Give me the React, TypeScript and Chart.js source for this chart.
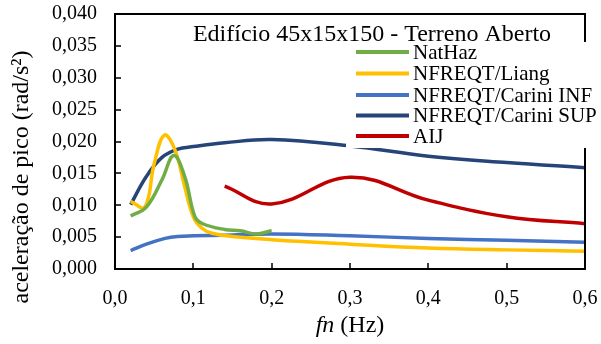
import React, { useEffect, useRef } from "react";
import { Chart, registerables } from "chart.js";

Chart.register(...registerables);

const chartTitle = "Edifício 45x15x150 - Terreno Aberto";
const yAxisTitle = "aceleração de pico (rad/s²)";
const xAxisTitleItalic = "fn";
const xAxisTitleRest = " (Hz)";

const natHazX = [0.02, 0.04, 0.06, 0.075, 0.089, 0.102, 0.112, 0.14, 0.16, 0.18, 0.2];
const natHazY = [0.0083, 0.0097, 0.014, 0.0178, 0.0145, 0.0082, 0.0071, 0.0062, 0.006, 0.0055, 0.006];

const liangX = [0.02, 0.038, 0.05, 0.063, 0.0765, 0.089, 0.1, 0.111, 0.124, 0.15, 0.2, 0.3, 0.4, 0.5, 0.6];
const liangY = [0.0106, 0.0097, 0.0165, 0.021, 0.0187, 0.0129, 0.0082, 0.0064, 0.0056, 0.0051, 0.0046, 0.0039, 0.0033, 0.003, 0.0028];

const cariniInfX = [0.02, 0.04, 0.064, 0.08, 0.1, 0.14, 0.2, 0.3, 0.4, 0.5, 0.6];
const cariniInfY = [0.0029, 0.0039, 0.0048, 0.0051, 0.0052, 0.0053, 0.0055, 0.0052, 0.0048, 0.0045, 0.0042];

const cariniSupX = [0.02, 0.04, 0.06, 0.08, 0.1, 0.14, 0.2, 0.3, 0.4, 0.5, 0.6];
const cariniSupY = [0.0101, 0.0145, 0.0175, 0.0188, 0.0192, 0.0198, 0.0203, 0.0193, 0.0177, 0.0167, 0.0159];

const aijX = [0.14, 0.2, 0.3, 0.4, 0.5, 0.6];
const aijY = [0.013, 0.0102, 0.0144, 0.0108, 0.0082, 0.0071];

const seriesLabels = ["NatHaz", "NFREQT/Liang", "NFREQT/Carini INF", "NFREQT/Carini SUP", "AIJ"];
const seriesColors = ["#70AD47", "#FFC000", "#4472C4", "#264478", "#C00000"];

const xTicks = [0, 0.1, 0.2, 0.3, 0.4, 0.5, 0.6];
const yTicks = [0, 0.005, 0.01, 0.015, 0.02, 0.025, 0.03, 0.035, 0.04];

const FONT = "'Liberation Serif', 'Times New Roman', serif";

function pts(xs: number[], ys: number[]) {
  return xs.map((x, i) => ({ x, y: ys[i] }));
}

const overlayPlugin = {
  id: "overlay",
  afterDraw(chart: any) {
    const { ctx, chartArea, scales } = chart;
    const { left, right, top, bottom } = chartArea;
    ctx.save();
    ctx.setLineDash([]);
    // plot box
    ctx.strokeStyle = "#000000";
    ctx.lineWidth = 2;
    ctx.beginPath();
    ctx.moveTo(left, top);
    ctx.lineTo(right, top);
    ctx.lineTo(right, bottom);
    ctx.lineTo(left, bottom);
    ctx.closePath();
    ctx.stroke();
    // inward tick marks
    ctx.lineWidth = 1.5;
    ctx.beginPath();
    yTicks.forEach((v) => {
      const py = Math.round(scales.y.getPixelForValue(v));
      ctx.moveTo(left, py);
      ctx.lineTo(left + 6, py);
    });
    xTicks.forEach((v) => {
      const px = Math.round(scales.x.getPixelForValue(v));
      ctx.moveTo(px, bottom);
      ctx.lineTo(px, bottom - 6);
    });
    ctx.stroke();

    // title
    ctx.fillStyle = "#000";
    ctx.font = `24px ${FONT}`;
    ctx.textAlign = "center";
    ctx.textBaseline = "alphabetic";
    ctx.fillText(chartTitle, 372, 41);

    // legend box
    ctx.fillStyle = "#fff";
    ctx.fillRect(346, 42, 601 - 346, 106);
    ctx.font = `21px ${FONT}`;
    ctx.textAlign = "left";
    ctx.textBaseline = "middle";
    const rowsY = [52, 73.5, 95, 115.5, 136];
    chart.data.datasets.forEach((ds: any, i: number) => {
      const yy = rowsY[i];
      ctx.strokeStyle = ds.borderColor;
      ctx.lineWidth = 4;
      ctx.beginPath();
      ctx.moveTo(356, yy);
      ctx.lineTo(409, yy);
      ctx.stroke();
      ctx.fillStyle = "#000";
      ctx.fillText(ds.label, 413, yy + 1);
    });

    // x axis title
    ctx.font = `italic 24px ${FONT}`;
    const w1 = ctx.measureText(xAxisTitleItalic).width;
    ctx.font = `24px ${FONT}`;
    const w2 = ctx.measureText(xAxisTitleRest).width;
    const cx = (left + right) / 2;
    const sx = cx - (w1 + w2) / 2;
    ctx.textAlign = "left";
    ctx.textBaseline = "alphabetic";
    ctx.font = `italic 24px ${FONT}`;
    ctx.fillText(xAxisTitleItalic, sx, 332);
    ctx.font = `24px ${FONT}`;
    ctx.fillText(xAxisTitleRest, sx + w1, 332);

    // y axis title
    ctx.translate(22, 177);
    ctx.rotate(-Math.PI / 2);
    ctx.textAlign = "center";
    ctx.textBaseline = "middle";
    ctx.fillText(yAxisTitle, 0, 0);
    ctx.restore();
  },
};

export default function App() {
  const ref = useRef<HTMLCanvasElement | null>(null);
  useEffect(() => {
    if (!ref.current) return;
    const xs = [natHazX, liangX, cariniInfX, cariniSupX, aijX];
    const ys = [natHazY, liangY, cariniInfY, cariniSupY, aijY];
    const chart = new Chart(ref.current, {
      type: "line",
      data: {
        datasets: seriesLabels.map((label, i) => ({
          label,
          data: pts(xs[i], ys[i]),
          borderColor: seriesColors[i],
          backgroundColor: seriesColors[i],
          borderWidth: 3.5,
          pointRadius: 0,
          tension: 0.4,
          fill: false,
          borderCapStyle: "butt",
        })),
      },
      options: {
        animation: false,
        responsive: false,
        maintainAspectRatio: false,
        devicePixelRatio: 1,
        layout: { padding: { top: 14, right: 16, left: 0, bottom: 0 } },
        plugins: {
          legend: { display: false },
          tooltip: { enabled: false },
        },
        scales: {
          x: {
            type: "linear",
            min: 0,
            max: 0.6,
            afterFit: (s: any) => {
              s.height = 75;
              s.paddingLeft = 0;
              s.paddingRight = 0;
            },
            grid: { display: false, drawTicks: false },
            border: { display: false },
            ticks: {
              stepSize: 0.1,
              padding: 18,
              color: "#000",
              font: { family: FONT, size: 20 },
              maxRotation: 0,
              callback: (v: any) => Number(v).toFixed(1).replace(".", ","),
            },
          },
          y: {
            type: "linear",
            min: 0,
            max: 0.04,
            afterFit: (s: any) => {
              s.width = 115;
              s.paddingTop = 0;
              s.paddingBottom = 0;
            },
            grid: { display: false, drawTicks: false },
            border: { display: false },
            ticks: {
              stepSize: 0.005,
              padding: 18,
              color: "#000",
              font: { family: FONT, size: 20 },
              callback: (v: any) => Number(v).toFixed(3).replace(".", ","),
            },
          },
        },
      },
      plugins: [overlayPlugin],
    } as any);
    return () => chart.destroy();
  }, []);
  return (
    <div style={{ position: "fixed", left: 0, top: 0, width: 601, height: 344, background: "#fff" }}>
      <canvas ref={ref} width={601} height={344} style={{ width: 601, height: 344 }} />
    </div>
  );
}
